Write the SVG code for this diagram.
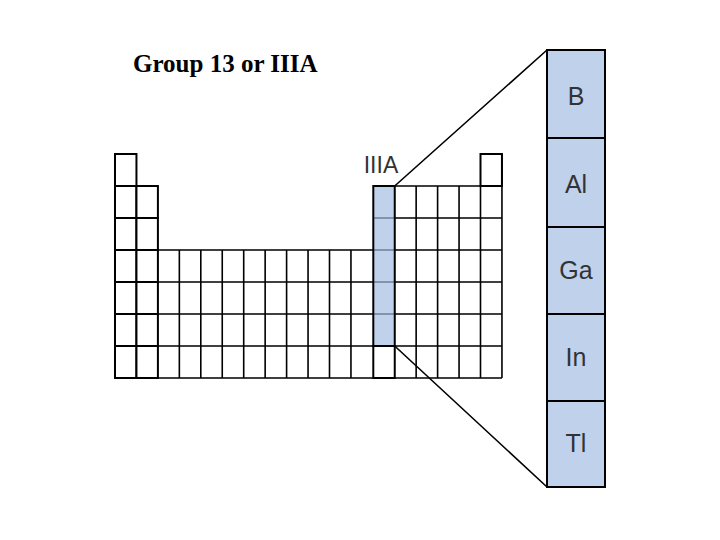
<svg xmlns="http://www.w3.org/2000/svg" width="720" height="540" viewBox="0 0 720 540">
<style>
.c{fill:#fff;stroke:#000;stroke-width:2}
.h{fill:#bfd1eb;stroke:#000;stroke-width:2}
.e{font-family:"Liberation Sans",Arial,sans-serif;font-size:25px;fill:#333;text-anchor:middle}
.ln{stroke:#000;stroke-width:1.6;fill:none}
</style>
<rect width="720" height="540" fill="#fff"/>
<text x="133" y="72" font-family="Liberation Serif,serif" font-weight="bold" font-size="25">Group 13 or IIIA</text>
<g id="table">
<g id="c1"><rect class="c" x="115" y="154" width="21.45" height="32"/><rect class="c" x="115" y="186" width="21.45" height="32"/><rect class="c" x="115" y="218" width="21.45" height="32"/><rect class="c" x="115" y="250" width="21.45" height="32"/><rect class="c" x="115" y="282" width="21.45" height="32"/><rect class="c" x="115" y="314" width="21.45" height="32"/><rect class="c" x="115" y="346" width="21.45" height="32"/></g>
<g id="c2"><rect class="c" x="136.45" y="186" width="21.45" height="32"/><rect class="c" x="136.45" y="218" width="21.45" height="32"/><rect class="c" x="136.45" y="250" width="21.45" height="32"/><rect class="c" x="136.45" y="282" width="21.45" height="32"/><rect class="c" x="136.45" y="314" width="21.45" height="32"/><rect class="c" x="136.45" y="346" width="21.45" height="32"/></g>
<g id="mid">
<path d="M157.9 250H373.3M157.9 282H373.3M157.9 314H373.3M157.9 346H373.3M157.9 378H373.3" class="ln" stroke-width="2"/>
<path d="M179.35 250V378M200.8 250V378M222.25 250V378M243.7 250V378M265.15 250V378M286.6 250V378M308.05 250V378M329.5 250V378M350.95 250V378" class="ln" stroke-width="2"/>
</g>
<g id="right">
<path d="M394.7 186H501.9M373.3 218H501.9M373.3 250H501.9M373.3 282H501.9M373.3 314H501.9M373.3 346H501.9M373.3 378H501.9" class="ln" stroke-width="2"/>
<path d="M416.15 186V378M437.6 186V378M459.05 186V378M480.5 186V378M501.95 154V378" class="ln" stroke-width="2"/>
<rect class="c" x="480.5" y="154" width="21.45" height="32"/>
</g>
<g id="group13"><rect class="h" x="373.3" y="186" width="21.45" height="160"/><rect class="c" x="373.3" y="346" width="21.45" height="32"/>
<path d="M373.3 218H394.7M373.3 250H394.7M373.3 282H394.7M373.3 314H394.7" stroke="#000" stroke-width="0.6"/></g>
</g>
<text x="381" y="173" font-family="Liberation Sans,Arial,sans-serif" font-size="23" fill="#333" text-anchor="middle">IIIA</text>
<g id="connectors">
<path class="ln" d="M394.7 186L547 50M394.7 346L547 487"/>
</g>
<g id="panel">
<g id="B"><rect class="h" x="547" y="50" width="58" height="88"/><text class="e" x="576" y="105">B</text></g>
<g id="Al"><rect class="h" x="547" y="138" width="58" height="89"/><text class="e" x="576" y="193">Al</text></g>
<g id="Ga"><rect class="h" x="547" y="227" width="58" height="87"/><text class="e" x="576" y="279">Ga</text></g>
<g id="In"><rect class="h" x="547" y="314" width="58" height="87"/><text class="e" x="576" y="366">In</text></g>
<g id="Tl"><rect class="h" x="547" y="401" width="58" height="86"/><text class="e" x="576" y="452">Tl</text></g>
</g>
</svg>
